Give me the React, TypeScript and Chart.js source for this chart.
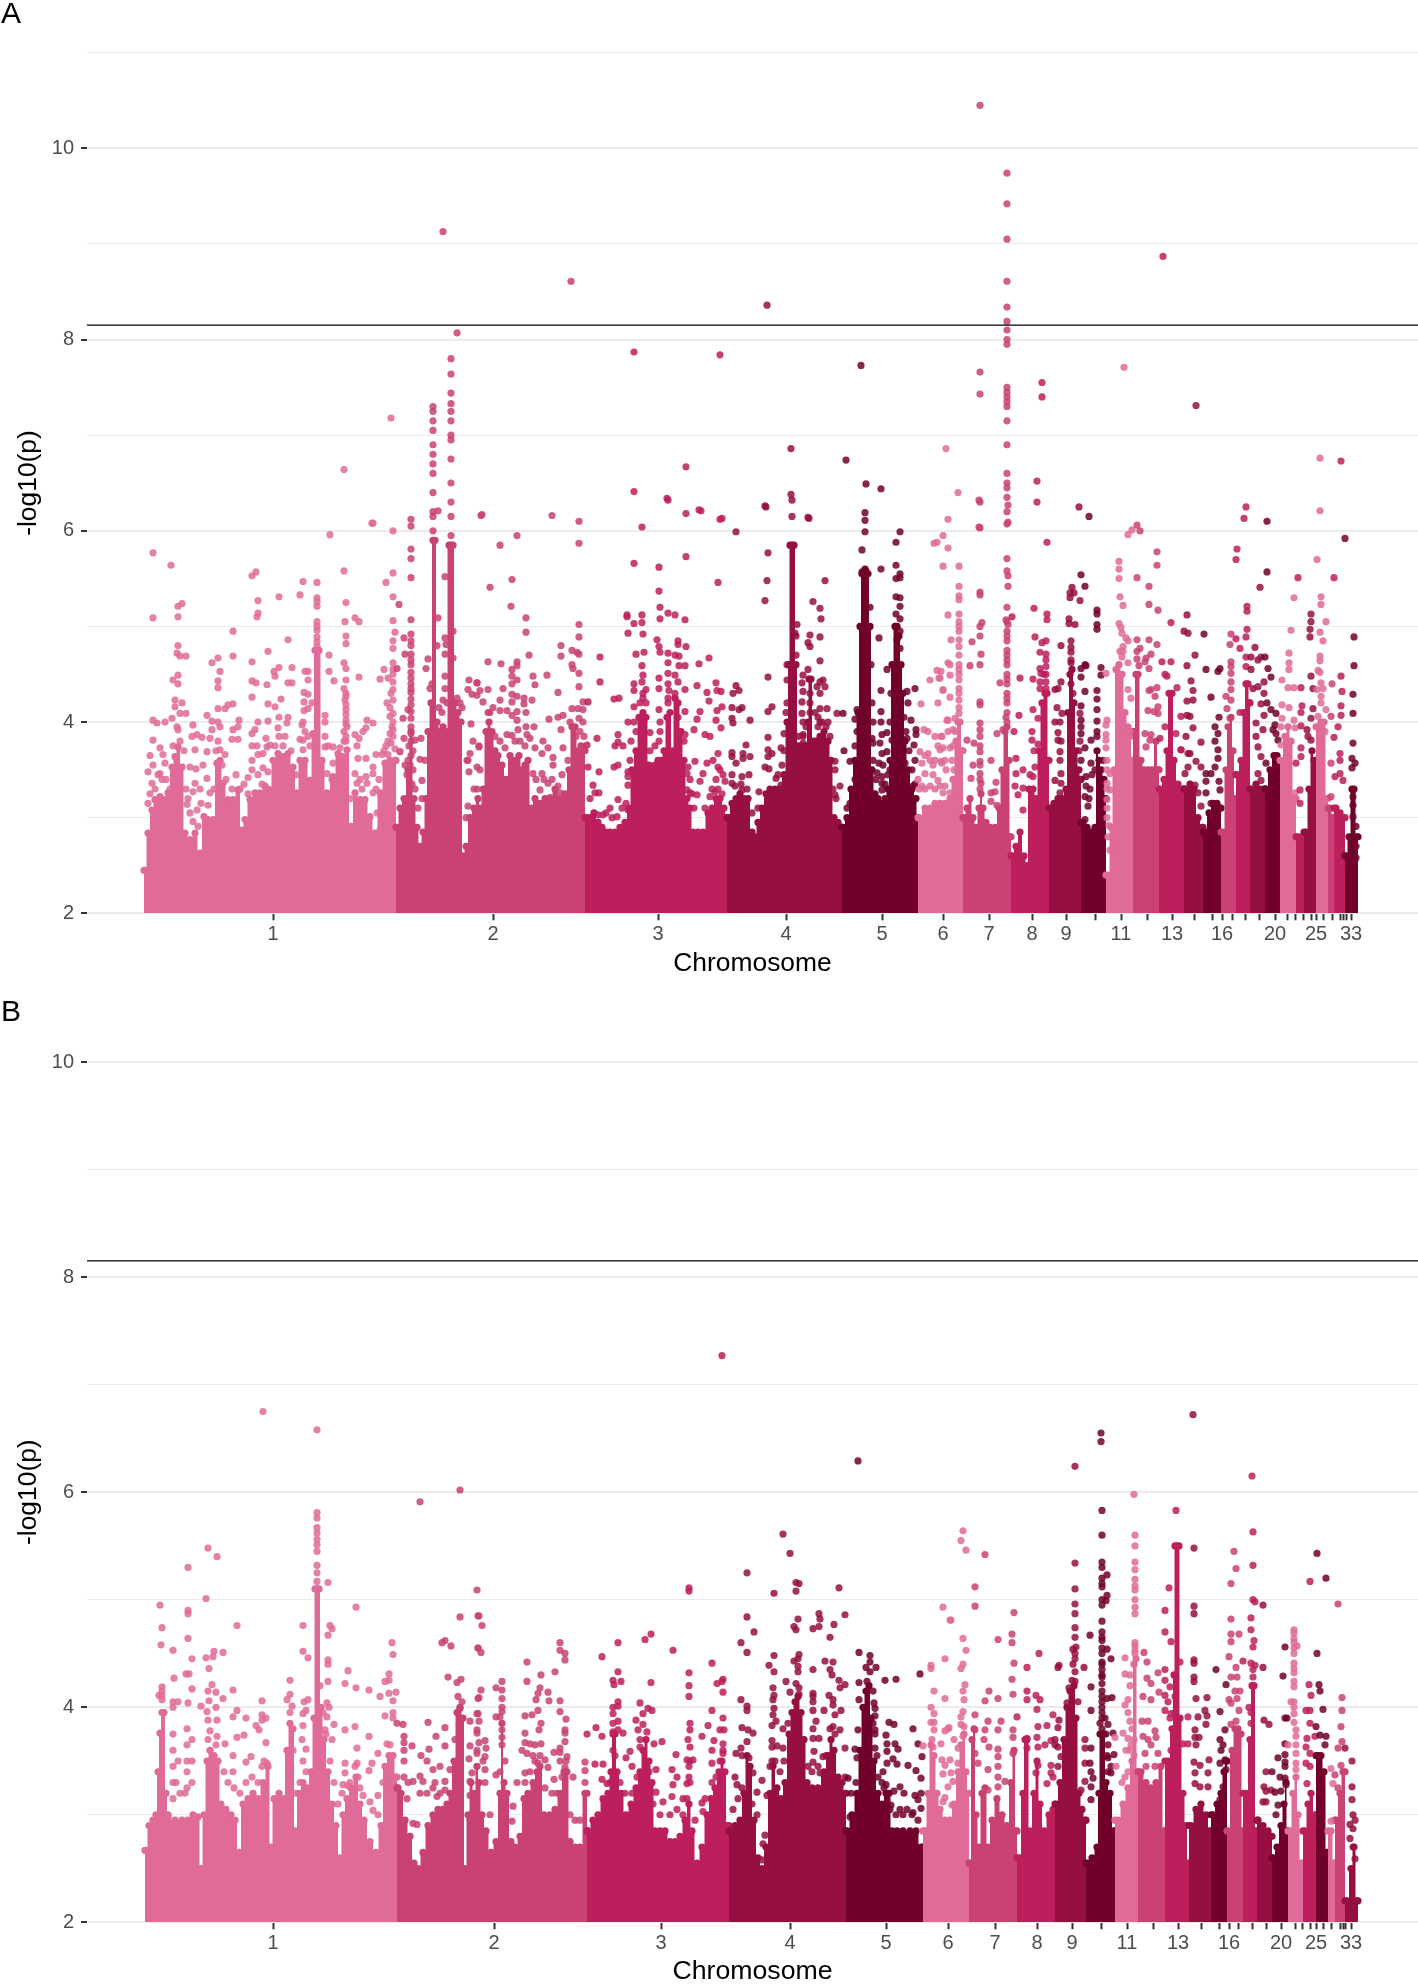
import { useEffect, useRef } from "react";
import { Chart, registerables } from "chart.js";

Chart.register(...registerables);

const palette = ["#e16b98", "#c94273", "#bd1f5c", "#960f41", "#71002b"];
const paletteDots = ["rgba(225,107,152,0.85)", "rgba(201,66,115,0.85)", "rgba(189,31,92,0.85)", "rgba(150,15,65,0.85)", "rgba(113,0,43,0.85)"];
const yTitle = "-log10(p)";
const xTitle = "Chromosome";
const significance = 8.15;
const xRange = [87, 1418];

const xTicksA = [273,493,658,786,882,943,989,1032,1066,1095,1121,1147,1172,1194,1212,1222,1232,1245,1259,1275,1287,1295,1303,1311,1316,1323,1332,1340,1343,1346,1351];
const xTicksB = [273,494,661,790,886,948,995,1037,1072,1101,1127,1153,1178,1201,1219,1229,1238,1252,1266,1281,1295,1302,1310,1316,1323,1331,1340,1343,1345,1351];
const xLabelsA = ["1","2","3","4","5","6","7","8","9","","11","","13","","","16","","","","20","","","","","25","","","","","","33"];
const xLabelsB = ["1","2","3","4","5","6","7","8","9","","11","","13","","","16","","","","20","","","","25","","","","","","33"];

const bandEdgesA = [144,396,585,727,842,918,963,1011,1049,1081,1106,1133,1159,1184,1203,1221,1236,1250,1265,1280,1296,1304,1316,1328,1334,1345,1358];
const bandColorsA = [0,1,2,3,4,0,1,2,3,4,0,1,2,3,4,1,2,3,4,0,2,3,0,1,2,4];
const bandEdgesB = [145,397,587,729,846,923,969,1017,1055,1086,1115,1138,1165,1189,1211,1227,1243,1257,1272,1288,1303,1316,1328,1335,1345,1358];
const bandColorsB = [0,1,2,3,4,0,1,2,3,4,0,1,2,3,4,1,2,3,4,0,2,4,0,1,3];

// solid mass outline: x, top value
const massA = [
145,2.45,148,2.84,152,3.08,155,3.19,160,3.22,165,3.19,168,3.26,172,3.53,175,3.64,178,3.74,182,3.53,185,2.84,190,2.77,195,2.84,200,2.63,204,3.01,208,2.98,213,2.98,217,3.57,220,3.6,223,3.36,228,3.19,233,3.19,238,3.29,242,2.87,245,2.98,250,3.19,255,3.26,260,3.26,265,3.33,270,3.29,273,3.6,278,3.67,283,3.64,288,3.67,293,3.53,297,3.26,300,3.6,305,3.6,310,3.39,313,3.88,315,4.75,317,4.75,319,4.75,322,3.6,327,3.26,333,3.43,338,3.67,342,3.64,347,3.71,351,2.91,355,3.26,360,3.19,365,3.19,370,3.01,375,2.84,380,3.26,385,3.57,390,3.6,395,3.6,
397,2.9,400,3.1,404,3.2,408,3.5,411,3.9,414,3.2,417,2.9,420,2.7,423,2.85,426,3.2,428,3.9,431,4.2,433,5.9,435,5.9,437,4.0,440,3.9,443,3.95,446,3.9,449,5.85,451,5.85,453,5.85,455,4.2,458,4.1,461,4.0,463,2.6,466,2.7,470,3.0,474,3.1,478,3.2,480,3.1,483,3.3,486,3.9,489,4.0,492,3.9,495,3.7,498,3.65,502,3.55,506,3.4,510,3.65,513,3.6,516,3.6,519,3.65,522,3.5,525,3.55,528,3.6,531,3.1,535,3.2,540,3.15,545,3.2,550,3.2,555,3.3,560,3.2,565,3.25,569,3.5,572,3.95,575,3.95,578,3.7,581,3.75,584,3.7,
586,3.0,590,3.0,594,3.05,598,2.95,602,2.9,606,2.85,610,2.85,615,2.85,620,2.9,625,2.95,629,3.1,632,3.5,636,3.7,639,4.05,643,4.1,646,4.05,649,3.55,652,3.5,655,3.55,658,3.6,661,3.6,664,3.7,667,4.05,670,4.1,672,3.7,675,4.25,678,4.2,681,3.9,684,3.6,687,3.2,690,3.1,693,2.85,698,2.85,703,2.85,708,3.05,712,3.1,716,3.2,720,3.2,724,3.1,726,3.0,
728,3.0,732,3.15,736,3.2,740,3.25,744,3.2,748,3.2,752,2.85,755,2.8,758,2.95,762,3.1,766,3.25,770,3.3,775,3.3,780,3.3,784,3.45,787,4.0,789,4.6,790,5.85,792,5.85,794,5.85,796,4.6,798,3.75,802,3.75,806,3.75,808,4.0,809,4.45,811,4.45,813,3.8,816,3.8,820,3.85,824,3.9,828,3.8,831,3.6,834,3.0,838,2.95,841,2.9,
843,2.9,847,3.0,851,3.3,855,3.6,858,4.1,860,5.0,862,5.55,865,5.6,868,5.55,870,5.0,872,3.5,875,3.25,878,3.2,882,3.15,885,3.2,888,3.3,890,3.6,892,4.6,895,5.0,897,5.0,899,4.9,901,4.6,903,4.3,905,3.8,908,3.5,912,3.3,916,3.2,917,3.0,
919,3.0,925,3.1,930,3.1,935,3.15,940,3.15,945,3.15,950,3.2,953,3.4,956,3.8,958,4.0,960,4.0,962,3.7,
964,3.0,967,3.1,970,3.2,973,3.0,976,2.9,979,3.1,981,3.25,983,3.1,986,2.95,990,2.9,995,2.9,999,3.1,1002,3.5,1005,3.9,1007,3.95,1009,3.6,1010,2.8,
1012,2.6,1016,2.7,1020,2.85,1024,2.6,1027,2.5,1029,3.3,1033,3.3,1036,3.2,1039,3.7,1042,4.2,1045,4.3,1047,4.3,1048,3.6,
1050,3.1,1054,3.15,1058,3.2,1062,3.2,1066,3.3,1068,4.1,1070,4.5,1072,4.55,1074,4.2,1076,3.7,1079,3.5,1080,3.4,
1083,2.95,1087,2.9,1091,2.85,1095,2.9,1097,3.7,1099,3.6,1101,3.5,1104,3.4,1105,3.2,
1108,2.4,1111,2.9,1114,3.5,1116,4.55,1119,4.6,1122,4.5,1125,4.1,1128,3.95,1130,3.85,1132,3.6,
1134,3.9,1136,4.5,1138,4.5,1141,3.6,1144,3.5,1148,3.5,1152,3.5,1156,3.8,1158,3.5,
1160,3.3,1164,3.4,1167,3.7,1169,4.3,1171,4.3,1172,4.3,1174,3.6,1178,3.35,1183,3.3,
1185,3.3,1190,3.35,1194,3.3,1198,3.0,1202,2.9,
1205,2.85,1209,3.05,1213,3.15,1217,3.15,1220,3.1,
1223,2.85,1226,3.5,1228,3.95,1231,4.05,1233,3.7,1235,3.2,
1237,3.45,1241,3.6,1244,4.1,1246,4.4,1248,4.4,1249,4.2,
1251,3.3,1256,3.35,1260,3.3,1264,3.3,
1266,3.3,1270,3.5,1274,3.65,1277,3.65,1279,3.6,
1281,3.6,1285,3.85,1288,3.95,1291,3.8,1294,3.2,
1298,2.8,1302,2.8,
1306,2.85,1309,3.3,1312,3.7,1314,3.6,
1318,3.95,1321,4.0,1324,4.0,1327,3.2,
1330,3.1,1333,3.0,
1336,3.1,1340,3.05,1343,3.0,
1346,2.6,1349,2.8,1352,3.3,1354,3.3,1357,2.8,
];

const massB = [
146,2.67,149,2.9,153,2.95,156,3.0,158,3.4,160,3.76,162,3.95,164,3.95,166,3.2,168,3.0,175,2.95,182,2.95,188,2.95,193,3.0,198,2.98,201,2.5,204,3.0,207,3.5,210,3.6,214,3.55,218,3.5,221,3.1,226,3.05,231,3.0,235,2.95,239,2.65,243,3.1,248,3.15,253,3.2,258,3.15,263,3.3,268,3.45,271,2.7,274,3.15,279,3.2,283,3.15,287,3.6,290,3.85,293,3.8,295,2.85,299,3.2,303,3.3,307,3.25,311,3.4,314,3.9,315,5.1,317,5.1,319,5.1,321,4.0,324,3.7,328,3.4,332,3.1,336,2.9,340,2.6,343,3.0,347,3.15,351,3.25,356,3.35,360,3.1,364,2.95,370,2.75,376,2.65,381,2.9,385,3.45,389,3.55,393,3.55,396,3.35,
398,3.25,401,3.2,405,2.95,410,2.8,414,2.55,418,2.5,423,2.65,428,2.9,433,3.0,438,3.05,443,3.05,447,3.1,450,3.2,454,3.5,457,3.95,460,4.0,463,3.9,465,2.5,468,3.0,471,3.3,474,3.2,477,3.45,479,3.3,482,3.0,486,2.85,491,2.65,496,2.75,500,3.2,502,3.85,504,3.3,507,3.2,511,2.75,515,2.7,520,2.8,524,3.15,528,3.2,533,3.3,537,3.4,540,3.45,544,3.0,550,3.0,555,3.05,560,3.2,564,3.4,567,3.4,570,2.75,575,2.7,580,2.7,585,3.2,
588,2.85,593,2.95,598,3.0,603,3.15,608,3.2,611,3.4,613,3.75,615,3.75,617,3.4,621,3.2,626,3.0,631,3.1,636,3.25,640,3.4,643,3.6,646,3.7,649,3.5,652,3.3,655,2.85,660,2.85,665,2.85,670,2.75,675,2.75,680,2.8,685,2.95,689,3.1,692,2.85,697,2.55,702,2.7,707,3.0,711,3.15,715,3.25,719,3.4,722,3.5,725,3.4,727,2.9,
730,2.85,735,2.9,740,2.95,744,3.2,747,3.55,750,3.45,754,2.95,758,2.6,762,2.5,766,2.7,770,3.2,773,3.45,777,3.25,781,3.15,785,3.3,789,3.75,792,3.95,795,4.05,798,4.1,801,3.95,804,3.7,807,3.3,812,3.25,818,3.25,824,3.4,828,3.55,831,3.7,834,3.6,838,3.35,842,3.3,845,3.2,
847,2.85,852,3.0,857,3.2,860,3.6,863,4.0,866,4.15,869,4.2,871,3.9,874,3.5,878,3.2,882,3.1,886,3.2,889,3.2,892,2.85,897,2.85,903,2.85,910,2.85,916,2.85,921,2.7,
925,2.85,928,3.2,931,3.65,934,3.55,937,3.2,940,3.05,945,2.95,950,2.95,954,3.1,958,3.4,961,3.65,964,3.75,966,3.4,968,3.2,
970,2.55,972,3.7,974,3.8,976,3.0,979,2.7,982,3.2,985,3.25,988,2.7,992,2.95,997,3.15,1002,3.0,1007,2.9,1011,3.3,1014,3.6,1016,2.85,
1019,2.6,1023,3.2,1025,3.7,1027,3.7,1030,2.85,1034,3.2,1037,3.5,1040,3.1,1044,2.85,1049,3.0,1053,3.05,
1056,3.1,1060,3.3,1064,3.7,1067,4.0,1070,4.15,1074,4.2,1076,3.9,1079,3.2,1082,3.05,1085,2.95,
1088,2.55,1092,2.6,1097,2.7,1099,3.2,1100,3.75,1102,3.75,1104,3.75,1106,3.3,1110,3.2,1114,2.85,
1118,2.95,1123,3.1,1128,3.25,1132,3.5,1134,4.4,1136,4.45,1137,3.4,
1141,3.4,1146,3.3,1151,3.25,1156,3.3,1161,3.45,1164,2.85,
1168,3.5,1172,3.8,1174,4.3,1175,5.5,1177,5.5,1179,5.5,1180,3.9,1183,3.2,1186,2.9,1188,2.55,
1191,2.9,1196,3.05,1201,3.1,1206,3.0,1210,2.85,
1213,3.0,1217,3.1,1221,3.2,1224,3.4,1226,3.5,
1228,2.85,1232,3.6,1235,3.8,1238,3.8,1241,3.75,1242,2.85,
1246,3.2,1250,3.7,1252,4.2,1254,4.2,1256,2.85,
1258,2.95,1263,2.9,1268,2.85,1271,2.8,
1273,2.6,1277,2.7,1281,2.9,1284,3.1,1286,3.3,1287,2.85,
1290,2.85,1293,3.2,1296,3.35,1298,3.0,1301,2.55,
1305,2.85,1308,3.1,1311,3.2,1315,3.0,
1318,3.55,1321,3.55,1324,3.4,1327,2.65,
1331,2.85,1334,2.55,
1336,2.95,1340,3.2,1343,3.4,
1347,2.2,1351,2.5,1354,2.7,1357,2.2,
];

// individual points: x, value
const dotsA1 = [153,5.77,171,5.64,153,5.09,178,5.21,182,5.24,178,5.10,178,4.80,177,4.72,180,4.69,186,4.69,178,4.49,173,4.44,178,4.40,175,4.23,182,4.20,175,4.16,180,4.09,186,4.09,153,4.02,157,3.99,165,4.0,172,4.04,177,3.95,153,3.81,160,3.73,150,3.65,163,3.66,153,3.55,148,3.48,165,3.57,160,3.46,152,3.36,162,3.40,193,3.97,192,3.85,202,3.84,197,3.87,195,3.71,207,3.69,207,4.07,212,4.01,218,4.0,220,3.95,212,3.92,210,3.83,218,3.80,220,3.71,225,3.66,190,3.53,196,3.51,186,3.30,195,3.36,193,3.27,207,3.41,210,3.26,208,3.13,187,3.14,190,3.05,197,3.08,193,2.96,198,2.91,218,4.14,225,4.14,233,4.19,228,4.18,233,4.69,233,4.95,212,4.62,218,4.67,220,4.53,218,4.43,218,4.36,239,4.02,238,3.95,233,3.92,232,3.82,238,3.82,
252,5.53,256,5.57,258,5.27,258,5.14,257,5.1,252,4.63,252,4.43,256,4.41,252,4.26,258,4.0,255,3.92,252,3.88,252,3.75,257,3.75,252,3.6,258,3.66,263,3.67,252,3.5,258,3.45,248,3.42,263,3.52,268,3.48,267,3.74,270,3.76,266,3.83,268,4.01,268,4.19,275,4.16,281,4.24,267,4.39,268,4.74,279,5.31,288,4.86,274,4.53,279,4.57,275,4.48,292,4.57,288,4.41,292,4.41,279,4.05,288,4.05,278,3.94,287,3.99,285,3.85,279,3.85,300,5.33,303,5.47,317,5.46,317,5.3,317,5.26,317,5.21,317,5.05,317,5.0,317,4.96,317,4.89,317,4.84,317,4.79,346,5.25,344,5.58,345,5.05,346,4.9,346,4.82,355,5.09,359,5.05,330,5.96,373,6.08,393,6.0,393,5.56,386,5.46,393,5.31,399,5.23,393,5.06,395,4.94,393,4.85,393,4.77,393,4.62,384,4.55,380,4.45,388,4.46,397,4.56,393,4.55,329,4.7,329,4.53,334,4.43,344,4.62,346,4.56,346,4.44,344,4.35,345,4.23,346,4.13,346,4.02,347,3.95,344,3.9,359,4.47,367,4.02,373,3.99,366,3.94,363,3.9,359,3.83,355,3.87,357,3.75,358,3.62,366,3.62,376,3.66,382,3.66,388,3.66,373,3.53,373,3.46,366,3.43,355,3.46,357,3.36,367,3.36,373,3.26,380,2.87,377,3.05,325,4.07,325,4.0,325,3.85,325,3.74,333,3.74,340,3.73,333,3.57,327,3.46,305,4.53,308,4.53,308,4.44,304,4.31,308,4.29,304,4.21,308,4.14,302,3.97,303,3.81,303,3.71,387,4.2,393,4.09,390,4.06,393,4.34,393,4.23,393,4.0,393,3.92,393,3.85,391,3.78,344,6.64,372,6.08,391,7.18,
346,4.3,346,4.27,346,4.18,346,4.08,346,3.98,346,3.85,346,3.8,393,4.5,393,4.42,391,4.3,390,4.15,392,3.95,390,3.88,388,3.8,386,3.75,395,3.72,304,4.12,303,4.0,305,3.9,308,3.85,300,3.82,310,3.75,312,4.2,155,3.3,158,3.45,150,3.25,148,3.15,170,3.3,166,3.4,173,3.75,178,3.92,180,3.8,184,3.7,188,3.2,200,3.3,203,3.55,201,3.15,214,3.3,216,3.7,222,3.55,226,3.4,232,3.3,236,3.45,240,3.3,244,3.35,248,3.25,262,3.35,268,3.3,275,3.75,283,3.75,291,3.7,296,3.45,328,3.75,332,3.4,338,3.4,344,3.8,350,3.2,360,3.4,362,3.3,376,3.3,379,3.4,384,3.7];
const dotsA2 = [411,6.12,411,6.05,411,5.81,411,5.71,411,5.51,411,5.07,411,4.92,411,4.85,411,4.71,411,4.6,411,4.52,411,4.4,411,4.31,411,4.24,411,4.11,411,4.04,411,3.95,411,3.88,404,4.88,405,4.71,403,4.04,408,4.13,415,3.81,421,3.83,420,3.61,404,3.83,400,3.69,410,3.55,405,3.55,422,3.39,428,4.66,426,4.56,437,4.8,438,5.09,438,6.21,445,5.52,445,4.88,446,4.81,445,4.71,445,4.48,445,4.35,443,4.23,453,4.95,453,4.67,469,4.44,477,4.41,468,4.34,472,4.29,477,4.28,471,3.98,473,3.8,479,3.74,470,3.67,468,3.6,467,3.6,469,3.48,477,3.53,477,3.3,468,3.12,
433,7.3,433,7.25,433,7.15,433,7.05,433,6.9,433,6.8,433,6.7,433,6.6,433,6.4,433,6.2,433,6.15,433,6.0,451,7.8,451,7.64,451,7.44,451,7.33,451,7.25,451,7.15,451,7.0,451,6.95,451,6.75,451,6.5,451,6.3,451,6.15,451,5.95,443,9.13,457,8.07,
482,6.17,552,6.16,579,6.1,500,5.85,517,5.95,579,5.87,490,5.41,512,5.49,511,5.21,526,5.09,526,4.94,579,5.02,579,4.89,561,4.8,561,4.69,572,4.75,577,4.73,579,4.71,572,4.6,573,4.56,579,4.51,579,4.37,488,4.63,501,4.61,517,4.63,517,4.59,512,4.55,529,4.7,512,4.48,533,4.48,547,4.49,535,4.39,512,4.4,517,4.44,503,4.35,488,4.34,477,4.41,480,4.33,512,4.29,517,4.27,500,4.23,512,4.21,524,4.25,532,4.23,524,4.19,558,4.31,483,4.21,493,4.15,500,4.12,507,4.12,512,4.07,517,4.11,526,4.1,517,4.02,549,4.03,558,4.05,563,4.07,572,4.14,578,4.14,583,4.21,588,4.21,583,4.13,579,4.04,583,4.0,518,3.92,526,3.95,534,3.95,561,3.92,507,3.87,512,3.86,527,3.87,530,3.83,543,3.8,479,3.75,505,3.73,535,3.73,548,3.73,563,3.73,587,3.76,553,3.63,542,3.67,553,3.55,588,3.53,533,3.46,542,3.46,548,3.36,558,3.33,540,3.29,550,3.21,560,3.26,571,8.61,481,6.16,
411,4.8,411,4.65,411,4.46,411,4.35,411,4.18,411,3.8,409,3.75,413,3.7,411,3.65,408,3.6,413,3.5,407,3.45,412,3.35,430,4.35,432,4.4,439,4.15,442,4.1,447,4.2,457,4.25,460,4.2,462,4.15,425,3.6,422,3.2,418,3.1,415,3.3,466,3.0,474,3.3,480,3.5,488,4.1,490,4.1,495,3.85,500,3.8,515,3.8,520,3.8,525,3.75,536,3.4,544,3.4,552,3.4,562,3.45,568,3.6,570,4.0,576,3.85,580,3.9,584,3.85];
const dotsA3 = [668,6.32,686,6.18,699,6.22,720,6.12,642,6.04,634,5.66,659,5.62,686,5.73,718,5.46,659,5.37,660,5.2,660,5.08,668,5.14,675,5.12,685,5.07,627,5.12,627,5.1,634,5.03,642,5.12,642,5.04,628,4.93,643,4.92,657,4.86,659,4.79,660,4.73,678,4.85,678,4.81,686,4.79,668,4.72,675,4.7,679,4.69,636,4.71,644,4.73,642,4.59,668,4.62,679,4.59,685,4.59,699,4.61,709,4.67,600,4.68,600,4.42,643,4.49,659,4.46,668,4.51,675,4.49,634,4.4,642,4.42,668,4.4,678,4.42,659,4.35,634,4.33,646,4.34,669,4.33,685,4.34,697,4.38,716,4.41,707,4.31,717,4.33,721,4.32,643,4.25,614,4.24,619,4.25,709,4.22,634,4.16,659,4.13,700,4.11,717,4.12,722,4.16,697,4.03,716,4.02,628,4.0,685,4.11,721,3.94,694,3.92,618,3.87,597,3.83,705,3.87,710,3.85,650,3.89,685,3.87,615,3.75,623,3.75,618,3.79,718,3.67,713,3.6,695,3.59,707,3.57,718,3.53,720,3.5,703,3.46,614,3.53,618,3.55,599,3.48,628,3.48,628,3.43,688,3.53,687,3.46,700,3.38,723,3.45,725,3.38,593,3.34,595,3.26,599,3.26,628,3.34,687,3.29,697,3.24,710,3.22,715,3.27,690,3.26,610,3.1,618,3.19,603,3.03,617,3.01,598,3.03,628,3.08,634,7.87,720,7.84,686,6.67,667,6.34,701,6.21,722,6.13,634,6.41,
660,4.0,660,3.9,659,3.8,668,4.25,668,4.2,675,4.3,678,4.05,684,3.8,640,4.2,643,4.3,646,4.2,634,4.0,631,3.8,630,3.6,636,3.9,650,3.7,655,3.75,690,3.4,692,3.25,694,3.1,705,3.1,712,3.3,716,3.4,718,3.3,722,3.25,590,3.2,606,3.05,612,3.0,622,3.1,626,3.15];
const dotsA4 = [765,6.26,792,6.32,792,6.15,808,6.14,736,5.99,768,5.77,767,5.48,765,5.27,825,5.48,813,5.26,820,5.19,821,5.08,820,4.89,810,4.91,808,4.83,810,4.79,820,4.64,797,5.02,795,4.93,808,4.55,768,4.47,820,4.42,823,4.44,825,4.37,817,4.37,803,4.49,802,4.41,803,4.32,820,4.3,736,4.38,733,4.3,739,4.33,787,4.2,787,4.44,802,4.21,820,4.14,827,4.14,837,4.09,843,4.09,772,4.16,768,4.11,732,4.15,742,4.15,739,4.13,802,4.09,750,4.02,732,4.04,733,3.99,820,4.0,828,4.0,803,4.0,818,3.95,784,3.88,768,3.84,803,3.87,803,3.78,781,3.73,768,3.71,772,3.67,732,3.68,732,3.64,746,3.76,743,3.67,750,3.64,743,3.62,736,3.57,768,3.64,765,3.53,769,3.51,732,3.45,742,3.43,749,3.45,732,3.36,735,3.33,742,3.29,776,3.41,781,3.34,759,3.27,737,3.17,835,3.59,835,3.5,844,3.7,850,3.59,835,3.24,840,3.33,767,8.36,791,6.86,791,6.38,766,6.25,809,6.13,
810,4.3,810,4.2,810,4.1,815,4.1,818,4.05,822,4.0,826,3.95,806,3.95,803,3.85,798,3.85,786,4.1,784,3.7,782,3.55,778,3.45,796,4.9,796,4.7,787,4.6,830,3.85,833,3.3,836,3.2,758,3.1,752,3.05,747,3.3,741,3.35];
const dotsA5 = [865,6.19,865,6.11,865,5.99,862,5.8,900,5.99,896,5.88,881,5.6,896,5.64,900,5.55,896,5.5,900,5.51,862,5.57,866,5.58,896,5.31,900,5.3,900,5.21,896,5.13,900,5.08,896,5.0,900,4.95,897,4.86,900,4.77,879,4.88,887,4.55,881,4.33,915,4.35,907,4.32,908,4.2,881,4.11,857,4.13,855,4.03,881,4.0,911,4.02,857,3.9,882,3.87,887,3.89,916,3.92,916,3.87,872,3.83,873,3.78,880,3.78,892,3.81,907,3.83,914,3.76,855,3.75,882,3.67,887,3.69,873,3.6,879,3.57,883,3.55,915,3.6,905,3.57,877,3.47,882,3.43,918,3.4,913,3.33,882,3.36,882,3.29,882,3.12,861,7.73,846,6.74,866,6.49,881,6.44,
870,5.2,871,4.6,872,4.2,873,4.0,855,3.4,850,3.15,847,3.1,876,3.4,904,4.05,906,3.9,909,3.7,912,3.5,915,3.35,890,3.5,888,3.45,885,3.35,890,4.0,891,4.3];
const dotsA6 = [948,6.12,943,5.95,934,5.87,943,5.63,948,5.82,948,5.12,937,4.54,930,4.44,939,4.46,943,4.33,938,4.2,921,4.19,948,4.62,948,4.02,924,3.92,928,3.9,935,3.85,942,3.85,920,3.69,928,3.67,940,3.71,922,3.57,933,3.55,942,3.57,925,3.46,933,3.45,930,3.33,940,3.33,945,3.33,922,3.33,959,5.63,959,5.42,959,5.32,959,5.28,959,5.13,959,5.05,959,5.0,959,4.95,959,4.86,959,4.79,959,4.7,959,4.6,951,4.86,950,4.6,950,4.49,943,4.34,950,4.26,959,4.44,959,4.35,959,4.23,947,4.02,959,4.09,955,4.04,941,4.53,940,4.46,948,3.9,953,3.92,941,3.85,943,3.73,950,3.73,941,3.59,946,3.5,938,3.39,943,3.26,950,3.26,946,6.86,958,6.4,937,5.88,
959,4.55,959,4.5,959,4.3,959,4.15,955,3.9,953,3.75,952,3.6,954,3.5,925,3.65,930,3.6,935,3.3,925,3.3,919,3.3,935,3.6,945,3.6,938,3.75];
const dotsA7 = [980,6.3,1008,6.27,980,6.03,1008,6.09,1037,6.3,1007,5.71,1007,5.58,1008,5.53,1008,5.42,980,5.36,980,5.33,1012,5.1,1006,5.07,1008,5.02,982,5.04,980,5.0,980,4.9,981,4.71,972,4.84,980,4.6,970,4.59,1000,4.41,1020,4.46,1019,4.07,980,4.21,980,4.18,980,3.99,980,3.92,980,3.85,997,3.88,1003,3.92,1014,3.9,967,3.81,974,3.78,980,3.69,973,3.55,991,3.6,980,3.59,980,3.46,981,3.36,971,3.41,996,3.37,991,3.26,995,3.27,991,3.17,997,3.13,1016,3.62,1016,3.46,1023,3.5,1015,3.33,1023,3.31,1018,3.24,1023,3.08,980,10.45,1007,9.74,1007,9.42,1007,9.05,1007,8.61,1007,8.34,1007,8.19,1007,8.1,1007,8.0,1007,7.95,980,7.66,980,7.43,1007,7.5,1007,7.45,1007,7.4,1007,7.35,1007,7.3,1007,7.15,1007,6.9,1007,6.6,1007,6.5,1007,6.45,1007,6.35,1007,6.2,1007,6.07,1007,5.2,1007,5.05,1007,4.95,1007,4.85,1007,4.7,1007,4.65,1007,4.5,1007,4.4,1007,4.25,1007,4.2,1007,4.1,1007,4.0,979,6.32,979,6.04,1034,5.19,1047,5.13,1047,5.07,1047,5.88,1035,4.89,1046,4.85,1042,4.83,1040,4.73,1046,4.71,1046,4.65,1046,4.58,1040,4.56,1041,4.51,1033,4.45,1040,4.42,1046,4.42,1033,4.13,1038,4.04,1032,3.9,1032,3.81,1038,3.77,1035,3.53,1041,3.53,1033,3.43,1042,7.55,1042,7.4,1037,6.52,
1007,4.9,1007,4.75,1007,4.6,1007,4.45,1007,4.3,1006,4.05,1046,4.5,1046,4.35,1040,4.35,1044,4.5,980,3.75,980,3.55,980,3.4,980,3.3,1030,3.45,1034,3.7];
const dotsA8 = [1079,6.25,1089,6.15,1081,5.54,1085,5.42,1072,5.41,1070,5.35,1074,5.35,1070,5.3,1080,5.27,1069,5.08,1069,5.03,1075,5.02,1061,4.8,1071,4.78,1071,4.73,1071,4.62,1081,4.56,1085,4.6,1081,4.47,1061,4.42,1058,4.35,1055,4.34,1085,4.32,1057,4.15,1062,4.09,1081,4.17,1080,4.09,1055,4.0,1060,4.0,1081,4.02,1081,3.95,1058,3.89,1058,3.81,1061,3.8,1081,3.88,1060,3.69,1060,3.6,1061,3.46,1055,3.39,1061,3.36,1060,3.26,
1097,5.17,1097,5.13,1097,5.02,1097,4.97,1086,4.59,1101,4.57,1106,4.51,1101,4.49,1097,4.33,1097,4.24,1097,4.13,1097,4.01,1107,4.02,1106,3.97,1106,3.87,1106,3.81,1106,3.73,1091,3.81,1091,3.57,1085,3.73,1086,3.43,1086,3.33,1085,3.22,1088,3.12,1085,2.98,1107,3.6,1107,3.5,1107,3.36,1107,3.19,1110,3.46,1110,3.29,1110,2.66,1109,2.92,
1071,4.85,1071,4.65,1071,4.4,1073,4.3,1080,3.8,1079,3.7,1081,3.6,1097,3.85,1097,3.9,1095,3.5,1092,3.45,1090,3.3,1089,3.2,1103,3.6,1107,3.3,1107,3.1,1107,3.0,1108,2.8];
const dotsA9 = [1119,5.68,1119,5.6,1119,5.5,1120,5.31,1123,5.22,1119,5.03,1121,4.99,1122,4.93,1126,4.88,1128,4.85,1123,4.79,1120,4.74,1123,4.74,1122,4.68,1128,4.62,1128,4.34,1131,4.25,1130,3.9,1132,6.01,1128,5.96,1124,7.71,1137,6.06,1140,6.0,1137,5.51,1149,5.42,1149,5.23,1157,5.78,1157,5.64,1158,5.17,1137,4.86,1149,4.86,1157,4.81,1140,4.77,1137,4.74,1151,4.71,1146,4.67,1137,4.66,1145,4.63,1139,4.59,1149,4.56,1151,4.34,1149,4.33,1157,4.36,1155,4.27,1148,4.12,1158,4.16,1158,4.09,1154,4.11,1151,3.87,1145,3.88,1146,3.74,1150,3.81,1160,3.83,1171,5.04,1162,4.63,1171,4.63,1165,4.5,1167,4.48,1177,4.36,1181,4.06,1165,3.95,1176,3.88,1181,3.71,1188,3.67,1185,3.46,1163,8.87];
const dotsA10 = [1187,5.12,1184,4.95,1188,4.93,1204,4.92,1195,4.7,1187,4.59,1191,4.43,1193,4.33,1187,4.22,1193,4.23,1190,4.06,1187,4.07,1193,3.94,1186,3.85,1201,3.79,1181,3.71,1190,3.67,1196,3.59,1188,3.53,1201,3.53,1206,3.46,1195,3.34,1206,3.38,1198,3.26,1206,3.26,1201,3.12,1196,7.31,1206,4.55,1220,4.56,1218,4.53,1211,4.26,1219,4.05,1215,3.95,1218,3.88,1215,3.8,1218,3.71,1218,3.62,1215,3.53,1211,3.46,1219,3.38,1220,3.29,1211,3.15,1237,5.81,1236,5.7,1231,4.92,1236,4.87,1230,4.81,1240,4.77,1231,4.63,1231,4.58,1231,4.51,1231,4.42,1231,4.34,1226,4.27,1231,4.23,1227,4.14,1240,4.1,1230,4.04,1246,6.25,1244,6.13,1247,5.21,1247,5.16,1247,4.97,1246,4.89,1246,4.68,1251,4.68,1246,4.58,1251,4.55,1253,4.35,1260,5.41,1267,5.57,1255,4.78,1261,4.68,1258,4.65,1265,4.68,1268,4.56,1271,4.47,1264,4.42,1258,4.37,1264,4.3,1261,4.19,1267,4.2,1264,4.07,1256,3.99,1263,3.92,1256,3.85,1258,3.74,1261,3.64,1266,3.57,1258,3.46,1261,3.39,1267,6.1,1282,4.44,1282,4.18,1271,4.13,1276,4.09,1282,4.04,1275,3.97,1281,3.95,1273,3.92,1276,3.88,1278,3.81,1281,3.76];
const dotsA11 = [1291,4.96,1289,4.72,1289,4.62,1289,4.55,1288,4.36,1294,4.36,1301,4.36,1289,4.15,1294,4.02,1295,3.94,1294,5.3,1298,5.51,1302,4.17,1301,4.1,1301,3.96,1307,3.92,1301,3.73,1301,3.64,1296,3.57,1300,3.29,1295,3.26,1300,3.15,1311,5.13,1311,5.05,1310,4.97,1310,4.89,1317,5.7,1318,4.54,1311,4.48,1313,4.35,1317,4.34,1313,4.14,1311,4.04,1318,4.06,1308,3.85,1311,3.81,1320,6.76,1320,6.21,1321,5.31,1321,5.23,1326,5.05,1320,4.94,1323,4.85,1320,4.69,1320,4.64,1320,4.52,1321,4.41,1323,4.35,1321,4.27,1321,4.2,1326,4.13,1331,4.06,1325,3.9,1334,5.51,1332,4.4,1334,3.84,1331,3.57,1331,3.22,1335,3.43,1345,5.92,1341,6.73,1341,4.48,1342,4.32,1341,4.17,1341,4.07,1338,3.95,1340,3.67,1340,3.6,1340,3.46,1343,3.39,1354,4.89,1354,4.59,1353,4.29,1353,4.09,1353,3.78,1352,3.62,1355,3.57,1352,3.52,1353,3.29,1353,3.22,1353,3.13,1353,3.01,1356,2.91,1353,2.8,1356,2.7,1356,2.58,1350,2.52];

const dotsB1 = [208,5.48,217,5.40,188,5.30,206,5.01,160,4.95,188,4.90,188,4.87,162,4.74,188,4.64,161,4.58,173,4.53,237,4.76,206,4.46,214,4.52,213,4.47,223,4.51,192,4.45,209,4.36,186,4.31,189,4.31,174,4.27,212,4.21,192,4.17,162,4.19,162,4.15,162,4.11,162,4.07,159,4.11,173,4.05,178,4.05,173,4.0,188,4.04,201,4.01,208,4.15,216,4.14,223,4.08,233,4.16,209,4.06,207,3.96,216,4.0,217,3.88,208,3.88,210,3.78,237,3.97,233,3.91,246,3.9,237,3.72,244,3.74,225,3.66,217,3.73,256,3.83,259,3.79,262,4.06,262,3.93,266,3.9,262,3.88,266,3.67,251,3.54,246,3.49,267,3.48,263,6.75,290,4.25,290,4.12,287,4.07,292,4.01,303,4.76,303,4.52,308,4.46,304,4.05,308,4.07,303,3.94,306,3.97,303,3.83,302,3.7,306,3.61,317,6.58,317,5.81,317,5.76,317,5.67,317,5.62,317,5.56,317,5.51,317,5.45,317,5.32,317,5.25,317,5.17,328,5.16,356,4.93,330,4.76,332,4.73,328,4.67,328,4.44,328,4.40,328,4.24,348,4.34,345,4.22,356,4.18,369,4.16,380,4.1,389,4.31,385,4.24,389,4.25,389,4.13,396,4.14,393,4.06,392,4.6,393,4.49,393,3.95,385,3.92,393,3.9,397,3.85,345,3.79,355,3.82,357,3.62,369,3.73,378,3.57,387,3.66,345,3.48,357,3.48,372,3.48,369,3.41,345,3.39,343,3.28,348,3.27,358,3.35,363,3.18,370,3.12,378,3.18,373,3.04,327,4.04,329,4.0,327,3.91,334,3.84,325,3.79,332,3.7,
173,3.75,173,3.6,173,3.45,173,3.3,173,3.15,187,3.8,187,3.65,187,3.5,187,3.4,187,3.25,192,3.7,192,3.5,192,3.3,185,3.2,180,3.2,178,3.5,176,3.3,208,3.7,216,3.65,224,3.4,228,3.3,233,3.55,233,3.4,234,3.25,240,3.2,246,3.3,252,3.35,258,3.3,262,3.45,264,3.5,290,3.95,293,3.6,296,3.2,303,3.5,306,3.4,300,3.3,320,4.2,323,3.95,326,3.75,330,3.5,334,3.3,338,3.1,342,3.2,350,3.3,355,3.45,360,3.25,383,3.3,378,3.0,390,3.65];
const dotsB2 = [420,5.91,477,5.09,478,4.85,460,4.84,442,4.6,445,4.62,451,4.57,478,4.55,448,4.28,457,4.23,461,4.26,478,4.08,403,3.84,404,3.73,404,3.67,404,3.6,412,3.64,428,3.86,436,3.73,445,3.81,445,3.64,429,3.61,421,3.55,427,3.5,433,3.42,440,3.45,420,3.36,413,3.31,423,3.31,435,3.3,445,3.31,427,3.2,437,3.17,445,3.23,470,3.87,470,3.64,469,3.52,477,3.94,477,3.76,460,3.99,450,3.42,472,3.39,470,3.31,470,3.18,470,2.95,417,2.91,413,2.92,460,6.02,479,4.85,482,4.76,478,4.55,481,4.51,481,4.16,479,4.09,478,3.94,479,3.87,477,3.79,485,3.69,479,3.67,486,3.62,485,3.54,477,3.57,485,3.42,496,3.37,496,4.18,502,4.24,502,4.16,502,4.08,502,4.0,502,3.96,496,3.91,500,3.91,502,3.79,502,3.72,527,4.42,527,4.24,541,4.3,555,4.33,560,4.6,560,4.53,565,4.5,565,4.44,540,4.18,548,4.14,538,4.13,536,4.07,549,4.06,560,4.06,538,3.97,560,3.96,525,3.92,532,3.93,566,3.89,541,3.85,539,3.79,565,3.79,565,3.76,525,3.76,565,3.68,525,3.67,530,3.66,535,3.65,541,3.66,522,3.6,527,3.57,533,3.55,554,3.58,560,3.62,560,3.58,567,3.54,560,3.5,545,3.51,548,3.44,538,3.48,565,3.44,573,3.35,517,3.3,525,3.39,554,3.33,513,3.08,512,2.94,585,3.49,585,3.41,
408,3.3,404,3.5,404,3.35,407,3.15,420,3.2,433,3.25,440,3.2,455,3.7,458,4.1,462,4.05,477,3.6,483,3.5,485,3.3,490,3.0,502,3.65,500,3.4,505,3.5,525,3.3,530,3.4,535,3.5,540,3.55,545,3.25,552,3.2,557,3.2,562,3.35,566,3.5,570,3.0,575,2.95,580,2.95,585,3.3];
const dotsB3 = [602,4.47,618,4.6,618,4.33,613,4.25,614,4.21,621,4.24,618,4.05,613,4.0,618,4.01,613,3.94,613,3.85,618,3.87,613,3.77,618,3.79,623,3.76,596,3.81,602,3.73,587,3.75,595,3.47,603,3.47,602,3.33,607,3.29,626,3.53,630,3.59,632,3.45,640,4.04,636,3.88,643,3.94,648,3.99,652,3.97,643,3.84,638,3.79,640,3.7,647,3.77,640,3.63,654,3.66,662,3.68,645,4.63,651,4.68,651,4.23,673,4.53,689,5.11,689,5.08,689,4.32,689,4.2,689,4.1,712,4.41,712,3.97,717,4.22,723,4.26,722,4.24,723,4.14,723,3.9,690,3.85,690,3.79,688,3.7,690,3.63,708,3.83,702,3.73,714,3.69,720,3.79,724,3.79,712,3.6,723,3.66,723,3.57,676,3.56,687,3.51,693,3.51,712,3.48,689,3.45,672,3.42,677,3.35,656,3.42,687,3.29,689,3.35,673,3.28,656,3.21,672,3.17,663,3.12,702,3.11,703,3.03,683,3.15,722,7.27,
613,3.6,615,3.55,610,3.3,607,3.1,604,3.0,620,3.3,625,3.2,632,3.2,637,3.35,645,3.4,649,3.4,653,3.1,660,3.0,670,3.0,677,3.05,683,3.0,687,3.15,690,3.3,695,2.95,705,3.15,712,3.3,716,3.35,720,3.5,723,3.6,690,3.5];
const dotsB4 = [783,5.61,790,5.43,747,5.25,796,5.16,799,5.15,796,5.08,774,5.06,839,5.11,845,4.86,819,4.87,820,4.82,798,4.82,813,4.73,819,4.75,794,4.75,796,4.72,834,4.77,830,4.65,747,4.84,754,4.7,741,4.6,747,4.51,774,4.48,799,4.49,798,4.45,794,4.43,798,4.38,798,4.33,769,4.39,774,4.33,825,4.43,833,4.42,830,4.35,832,4.3,813,4.35,839,4.25,840,4.18,845,4.21,786,4.24,773,4.18,796,4.22,790,4.14,799,4.18,799,4.12,774,4.11,813,4.13,813,4.1,813,4.05,829,4.11,833,4.07,833,4.02,773,4.07,741,4.07,747,4.01,747,3.97,774,3.99,813,3.97,824,3.97,841,3.97,835,3.93,773,3.93,776,3.87,772,3.83,783,3.8,816,3.87,813,3.8,833,3.82,840,3.79,813,3.71,819,3.71,742,3.81,748,3.79,753,3.76,747,3.68,772,3.69,772,3.63,777,3.64,783,3.62,736,3.57,741,3.62,742,3.55,749,3.53,845,3.62,814,3.59,823,3.54,813,3.49,808,3.45,820,3.39,753,3.39,762,3.32,757,3.21,767,3.18,735,3.35,737,3.28,765,2.81,763,2.73,762,2.58,763,2.46,
770,3.45,772,3.5,775,3.5,780,3.4,784,3.5,788,3.85,812,3.4,818,3.45,826,3.55,830,3.8,835,3.75,845,3.35,742,3.25,738,3.15,733,3.05,752,3.1,757,3.0];
const dotsB5 = [859,4.51,870,4.48,870,4.42,866,4.37,876,4.37,870,4.33,859,4.23,867,4.24,885,4.25,896,4.26,920,4.31,859,4.07,873,4.15,874,4.04,875,3.99,875,3.92,858,3.79,875,3.79,889,3.86,894,3.84,913,3.8,886,3.74,887,3.66,895,3.66,918,3.66,923,3.64,855,3.61,857,3.53,875,3.62,887,3.59,898,3.61,893,3.52,922,3.54,887,3.48,897,3.47,908,3.46,916,3.41,921,3.34,848,3.34,883,3.4,886,3.28,900,3.26,904,3.2,894,3.22,915,3.18,921,3.2,918,3.14,921,3.06,913,3.02,891,3.09,903,3.0,850,2.98,858,6.29,
856,3.3,851,3.2,875,3.75,873,3.85,877,3.55,878,3.35,882,3.3,884,3.25,890,3.05,896,3.0,900,3.05,907,3.05,912,3.0,918,2.95];
const dotsB6 = [943,4.93,950,4.81,931,4.39,931,4.36,945,4.45,934,4.15,945,4.08,931,4.0,934,3.94,931,3.86,934,3.86,934,3.79,945,3.78,948,3.8,932,3.7,941,3.66,933,3.63,951,4.81,963,5.64,961,5.55,966,5.46,963,4.64,966,4.53,963,4.4,961,4.36,965,4.21,963,4.15,964,4.07,963,3.96,961,3.91,961,3.84,964,3.82,949,3.81,954,3.7,963,3.73,958,3.62,942,3.51,950,3.51,945,3.46,958,3.48,943,3.38,951,3.39,953,3.31,948,3.26,945,3.16,952,3.09,943,3.12];
const dotsB7 = [975,5.12,975,4.94,985,5.42,1014,4.88,998,4.63,1012,4.68,1012,4.6,1014,4.41,1012,4.26,1013,4.12,989,4.15,985,4.06,998,4.08,975,3.93,988,3.87,1001,3.87,998,3.79,1013,3.79,1017,3.91,975,3.79,985,3.79,984,3.7,1013,3.72,989,3.63,998,3.61,998,3.54,1013,3.57,978,3.48,988,3.42,998,3.45,998,3.35,1005,3.31,998,3.26,988,3.23,975,3.57,1027,4.37,1039,4.5,1027,4.15,1036,4.11,1040,4.07,1027,4.07,1037,3.98,1053,3.93,1047,3.83,1038,3.82,1037,3.72,1045,3.65,1027,3.71,1051,3.69,1038,3.63,1027,3.62,1055,3.65,1051,3.46,1038,3.46,1036,3.39,1051,3.39,1047,3.29];
const dotsB8 = [1075,6.24,1075,5.34,1075,5.1,1075,4.96,1075,4.87,1075,4.74,1075,4.65,1076,4.56,1073,4.54,1059,4.39,1058,4.37,1073,4.4,1075,4.33,1084,4.37,1075,4.24,1069,4.18,1067,4.04,1059,3.88,1058,3.81,1085,3.7,1055,3.7,1058,3.63,1085,3.62,1061,3.54,1085,3.48,1058,3.45,1053,3.35,1061,3.29,1085,3.31,1081,3.23,1101,6.55,1101,6.47,1102,5.83,1102,5.6,1102,5.35,1102,5.3,1102,5.2,1102,5.15,1102,5.12,1102,5.0,1102,4.95,1102,4.8,1102,4.65,1102,4.62,1102,4.55,1102,4.5,1102,4.42,1102,4.4,1102,4.3,1102,4.28,1102,4.22,1102,4.1,1102,4.05,1102,4.0,1102,3.95,1102,3.9,1102,3.8,1107,5.23,1107,5.04,1106,4.99,1107,4.54,1111,4.45,1090,4.67,1091,4.19,1091,3.97,1107,4.08,1112,4.09,1108,3.84,1113,3.76,1091,3.62,1108,3.65,1090,3.48,1108,3.53,1111,3.45,1091,3.4,1091,3.26,1091,3.14,1111,3.39,1093,3.34,
1102,4.7,1102,4.35,1102,4.15,1105,3.9,1106,3.75,1107,3.55,1108,3.4,1100,3.85,1075,4.5,1075,4.45,1078,4.05,1072,4.25];
const dotsB9 = [1134,5.98,1135,5.6,1135,5.5,1135,5.35,1135,5.28,1135,5.19,1135,5.13,1135,5.09,1135,5.0,1135,4.93,1135,4.87,1135,4.6,1135,4.57,1135,4.53,1135,4.5,1125,4.46,1125,4.31,1130,4.3,1130,4.2,1128,4.07,1125,4.02,1128,3.95,1130,3.87,1123,3.76,1128,3.71,1131,3.65,1126,3.6,1114,3.56,1115,3.72,1125,3.35,1116,3.45,1144,4.51,1147,4.42,1147,4.27,1151,4.22,1143,4.1,1151,4.07,1158,4.32,1159,4.14,1148,3.87,1155,3.78,1142,3.87,1156,3.72,1143,3.73,1148,3.7,1151,3.65,1145,3.57,1158,3.57,1146,3.45,1155,3.45,1176,5.83,1169,5.11,1165,4.9,1165,4.7,1171,4.61,1165,4.35,1165,4.25,1170,4.19,1165,4.11,1168,4.05,1165,3.97,1171,3.94,1170,3.9,1180,4.42,1183,3.66,1188,3.66,1188,3.91,1175,3.95,1175,4.1,1130,3.6,1132,3.8,1134,3.7,1134,3.55,1122,3.3,1128,3.4,1171,3.6];
const dotsB10 = [1193,6.72,1194,5.48,1194,4.94,1194,4.87,1194,4.44,1194,4.41,1194,4.28,1194,4.24,1196,4.08,1207,4.09,1205,3.97,1207,3.92,1198,3.91,1195,3.79,1206,3.84,1199,3.72,1195,3.72,1196,3.65,1209,3.51,1194,3.49,1200,3.46,1208,3.39,1195,3.39,1200,3.26,1208,3.26,1195,3.29,1216,4.35,1226,4.21,1220,3.96,1225,3.79,1220,3.7,1223,3.65,1221,3.6,1225,3.51,1220,3.48,1226,3.42,1223,3.26,1220,3.14,1234,5.45,1236,5.29,1231,5.15,1231,4.82,1231,4.68,1231,4.61,1239,4.68,1229,4.47,1236,4.37,1243,4.43,1231,4.28,1237,4.28,1235,4.15,1240,4.15,1229,4.07,1231,4.04,1237,4.08,1239,3.97,1236,3.87,1231,3.84,1252,6.15,1253,5.63,1253,5.32,1253,5.0,1255,4.98,1251,4.83,1251,4.72,1254,4.62,1253,4.56,1251,4.41,1255,4.39,1253,4.28,1249,4.0,1263,4.95,1263,4.37,1264,3.88,1269,3.84,1266,3.4,1272,3.4,1264,3.26,1271,3.23,1266,3.22,1275,3.21,1263,3.12,1266,3.12,1253,4.35,1251,3.95,1251,3.85];
const dotsB11 = [1285,4.56,1283,4.29,1285,3.9,1287,3.9,1285,3.66,1288,3.65,1285,3.56,1278,3.53,1285,3.49,1285,3.45,1280,3.35,1285,3.34,1281,3.22,1286,3.28,1278,3.09,1276,3.0,1294,4.72,1294,4.69,1294,4.64,1294,4.6,1294,4.55,1294,4.5,1294,4.41,1294,4.36,1294,4.32,1294,4.24,1294,4.19,1294,4.05,1294,4.0,1294,3.94,1294,3.86,1296,3.79,1296,3.73,1296,3.65,1296,3.57,1296,3.48,1296,3.42,1297,4.57,1291,4.05,1309,4.21,1310,5.17,1311,4.11,1306,3.97,1310,3.97,1310,3.85,1307,3.71,1306,3.63,1310,3.57,1306,3.48,1310,3.45,1307,3.29,1317,5.43,1326,5.2,1317,4.5,1319,4.21,1320,4.15,1323,3.98,1316,3.82,1315,3.73,1320,3.74,1326,3.73,1325,3.65,1338,4.96,1342,4.09,1342,3.97,1341,3.82,1342,3.68,1338,3.62,1345,3.62,1341,3.46,1331,3.43,1335,3.37,1333,3.29,1338,3.25,1331,2.94,1352,3.5,1352,3.26,1352,3.14,1353,3.0,1355,2.95,1350,2.91,1353,2.87,1350,2.78,1353,2.7,1355,2.59];

const dotsA = [...dotsA1,...dotsA2,...dotsA3,...dotsA4,...dotsA5,...dotsA6,...dotsA7,...dotsA8,...dotsA9,...dotsA10,...dotsA11];
const dotsB = [...dotsB1,...dotsB2,...dotsB3,...dotsB4,...dotsB5,...dotsB6,...dotsB7,...dotsB8,...dotsB9,...dotsB10,...dotsB11];

const toPoints = (flat: number[]) => {
  const out: { x: number; y: number }[] = [];
  for (let i = 0; i + 1 < flat.length; i += 2) out.push({ x: flat[i], y: flat[i + 1] });
  return out;
};

function buildDatasets(edges: number[], colors: number[], mass: number[], dots: number[]) {
  const massPts = toPoints(mass);
  const dotPts = toPoints(dots);
  const dotSets: any[] = [];
  const massSets: any[] = [];
  for (let b = colors.length - 1; b >= 0; b--) {
    const lo = edges[b];
    const hi = edges[b + 1];
    const inBand = (p: { x: number }) => p.x >= lo && (p.x < hi || b === colors.length - 1);
    const m = massPts.filter(inBand);
    const d = dotPts.filter(inBand);
    dotSets.push({
      data: d,
      showLine: false,
      pointRadius: 3.6,
      pointBorderWidth: 0,
      pointBackgroundColor: paletteDots[colors[b]],
    });
    if (m.length) {
      massSets.push({
        data: [{ x: lo, y: m[0].y }, ...m, { x: hi, y: m[m.length - 1].y }],
        showLine: true,
        stepped: "middle",
        borderWidth: 0,
        fill: { value: 2 },
        backgroundColor: palette[colors[b]],
        pointRadius: 3.6,
        pointBorderWidth: 0,
        pointBackgroundColor: palette[colors[b]],
      });
    }
  }
  return [
    {
      data: xRange.map((x) => ({ x, y: significance })),
      showLine: true,
      borderColor: "#000000",
      borderWidth: 1.3,
      pointRadius: 0,
      fill: false,
    },
    ...dotSets,
    ...massSets,
  ];
}

type PanelProps = {
  top: number; height: number; chartTop: number; chartBottom: number; yMax: number;
  edges: number[]; colors: number[]; mass: number[]; dots: number[];
  xTicks: number[]; xLabels: string[]; titleBottom: number; titleLine: number; titleSize: number;
};

function Panel(p: PanelProps) {
  const ref = useRef<HTMLCanvasElement | null>(null);
  useEffect(() => {
    if (!ref.current) return;
    const font = { family: "'Liberation Sans', Arial, sans-serif" };
    const chart = new Chart(ref.current, {
      type: "scatter",
      data: { datasets: buildDatasets(p.edges, p.colors, p.mass, p.dots) as any },
      options: {
        animation: false,
        responsive: false,
        maintainAspectRatio: false,
        layout: { autoPadding: false, padding: { top: p.chartTop, right: 0, left: 0, bottom: 0 } },
        plugins: { legend: { display: false }, tooltip: { enabled: false } },
        scales: {
          x: {
            type: "linear",
            min: xRange[0],
            max: xRange[1],
            border: { display: false },
            afterBuildTicks: (s: any) => { s.ticks = p.xTicks.map((value) => ({ value })); },
            afterFit: (s: any) => { s.height = p.height - p.chartBottom; },
            grid: { drawOnChartArea: false, drawTicks: true, tickLength: 7, tickWidth: 2, tickColor: "#333333", color: "#333333" },
            ticks: {
              autoSkip: false, maxRotation: 0, minRotation: 0, padding: 2,
              color: "#4d4d4d", font: { ...font, size: 20 },
              callback: (v: any) => { const i = p.xTicks.indexOf(v); return i >= 0 ? p.xLabels[i] : ""; },
            },
            title: {
              display: true, text: xTitle, color: "#000000",
              font: { ...font, size: p.titleSize, lineHeight: p.titleLine },
              padding: { top: 0, bottom: p.titleBottom },
            },
          },
          y: {
            type: "linear",
            min: 2,
            max: p.yMax,
            border: { display: false },
            afterFit: (s: any) => { s.width = xRange[0]; },
            grid: {
              color: "#ebebeb",
              lineWidth: (c: any) => (c.tick && c.tick.value % 2 === 0 ? 2 : 1),
              tickLength: 6,
              tickWidth: 2,
              tickColor: (c: any) => (c.tick && c.tick.value % 2 === 0 ? "#333333" : "rgba(0,0,0,0)"),
            },
            ticks: {
              stepSize: 1, autoSkip: false, padding: 7, color: "#4d4d4d", font: { ...font, size: 20 },
              callback: (v: any) => (v % 2 === 0 ? String(v) : ""),
            },
            title: {
              display: true, text: yTitle, color: "#000000",
              font: { ...font, size: 26.4, lineHeight: 1.2 },
              padding: { top: 13, bottom: 0 },
            },
          },
        },
      } as any,
    });
    return () => chart.destroy();
  }, []);
  return (
    <canvas
      ref={ref}
      width={1418}
      height={p.height}
      style={{ position: "absolute", left: 0, top: p.top, width: 1418, height: p.height, display: "block" }}
    />
  );
}

const tagStyle: any = {
  position: "absolute", left: 1, fontFamily: "'Liberation Sans', Arial, sans-serif",
  fontSize: 30, lineHeight: "30px", color: "#000",
};

export default function App() {
  return (
    <div style={{ position: "absolute", left: 0, top: 0, width: 1418, height: 1985, overflow: "hidden", background: "#fff" }}>
      <Panel top={0} height={1000} chartTop={52.7} chartBottom={913.3} yMax={11}
        edges={bandEdgesA} colors={bandColorsA} mass={massA} dots={dotsA}
        xTicks={xTicksA} xLabels={xLabelsA} titleBottom={20} titleLine={1.2} titleSize={26.4} />
      <Panel top={1000} height={985} chartTop={62} chartBottom={922.3} yMax={10}
        edges={bandEdgesB} colors={bandColorsB} mass={massB} dots={dotsB}
        xTicks={xTicksB} xLabels={xLabelsB} titleBottom={0} titleLine={1} titleSize={26.7} />
      <div style={{ ...tagStyle, top: -2 }}>A</div>
      <div style={{ ...tagStyle, top: 996 }}>B</div>
    </div>
  );
}
